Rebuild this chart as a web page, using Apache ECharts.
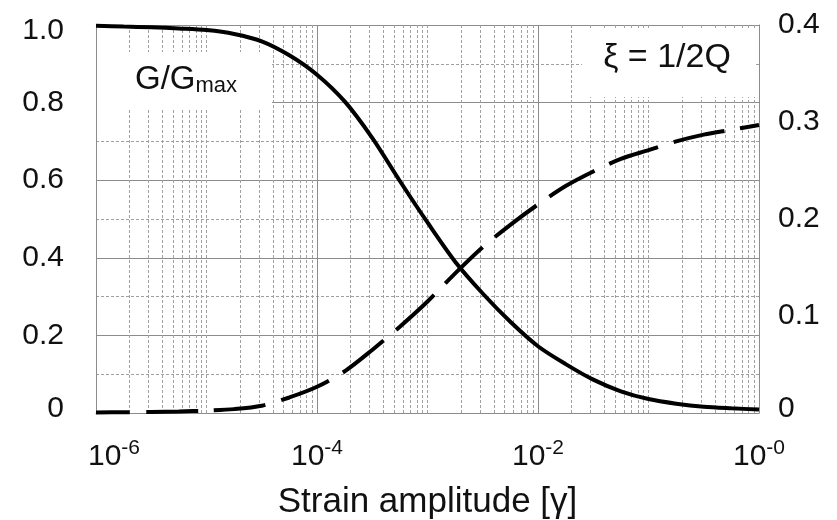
<!DOCTYPE html>
<html>
<head>
<meta charset="utf-8">
<script src="https://cdn.jsdelivr.net/npm/echarts@6/dist/echarts.min.js"></script>
<style>
  html, body { margin: 0; padding: 0; background: #fff; }
  #chart { width: 837px; height: 520px; }
</style>
</head>
<body>
<div id="chart"></div>
<script>
// Strain amplitude samples (quarter-decade steps)
const strain = [1e-6, 1.78e-6, 3.16e-6, 5.62e-6, 1e-5, 1.78e-5, 3.16e-5, 5.62e-5,
                1e-4, 1.78e-4, 3.16e-4, 5.62e-4, 1e-3, 1.78e-3, 3.16e-3, 5.62e-3,
                1e-2, 1.78e-2, 3.16e-2, 5.62e-2, 0.1, 0.178, 0.316, 0.562, 1];

// Shear modulus reduction G/Gmax (left axis)
const gRatio = [0.998, 0.996, 0.994, 0.991, 0.987, 0.977, 0.958, 0.922,
                0.872, 0.803, 0.709, 0.598, 0.491, 0.390, 0.308, 0.235,
                0.172, 0.126, 0.086, 0.056, 0.036, 0.024, 0.016, 0.012, 0.009];

// Damping ratio xi = 1/2Q (right axis)
const damping = [0.0005, 0.0008, 0.0011, 0.0016, 0.0025, 0.004, 0.0075, 0.016,
                 0.027, 0.043, 0.065, 0.089, 0.115, 0.144, 0.171, 0.194,
                 0.215, 0.234, 0.249, 0.262, 0.271, 0.280, 0.287, 0.292, 0.297];

// Axis ticks
const xTickExponents = ['-6', '-4', '-2', '-0'];
const leftTicks = [0, 0.2, 0.4, 0.6, 0.8, 1.0];
const rightTicks = [0, 0.1, 0.2, 0.3, 0.4];

// Minor log grid: 2..9 within every decade, plus the odd decades
const decades = [-6, -5, -4, -3, -2, -1];
const multipliers = [1, 2, 3, 4, 5, 6, 7, 8, 9];
const minorGridX = [];
decades.forEach(function (d) {
  multipliers.forEach(function (m) {
    if (m === 1 && d % 2 === 0) return; // even decades carry the major grid
    minorGridX.push(m * Math.pow(10, d));
  });
});

const FONT = '"Liberation Sans", Arial, Helvetica, sans-serif';
const MAJOR = '#8c8c8c';
const MINOR = '#a0a0a0';

function numLabel(v) {
  return Math.abs(v) < 1e-9 ? '0' : v.toFixed(1);
}
function snap(v, ticks) {
  const t = ticks.find(function (k) { return Math.abs(k - v) < 1e-6; });
  return t !== undefined ? t : v;
}
function pairs(xs, ys) {
  return xs.map(function (x, i) { return [x, ys[i]]; });
}

const chart = echarts.init(document.getElementById('chart'), null, { renderer: 'canvas' });

const tickText = { fontFamily: FONT, fontSize: 30, color: '#111' };

chart.setOption({
  animation: false,
  backgroundColor: '#fff',
  grid: {
    left: 96, right: 78, top: 25, bottom: 107,
    containLabel: false,
    outerBoundsMode: 'none'
  },
  xAxis: {
    type: 'log',
    logBase: 100,
    min: 1e-6,
    max: 1,
    name: 'Strain amplitude [\u03b3]',
    nameLocation: 'middle',
    nameGap: 72,
    nameTextStyle: { fontFamily: FONT, fontSize: 35, color: '#111' },
    axisLine: { show: true, lineStyle: { color: MAJOR, width: 1 } },
    axisTick: { show: false },
    splitLine: { show: true, lineStyle: { color: MAJOR, width: 1, type: 'solid' } },
    axisLabel: {
      margin: 25,
      showMinLabel: true,
      showMaxLabel: true,
      formatter: function (v, i) {
        const e = xTickExponents[i] !== undefined ? xTickExponents[i] : String(Math.round(Math.log10(v)));
        return (i === 0 ? '{b0|10}' : '{b|10}') + '{s|' + e + '}';
      },
      rich: {
        b: { fontFamily: FONT, fontSize: 30, lineHeight: 34, color: '#111', verticalAlign: 'bottom' },
        b0: { fontFamily: FONT, fontSize: 30, lineHeight: 34, color: '#111', verticalAlign: 'bottom', padding: [0, 0, 0, 36] },
        s: { fontFamily: FONT, fontSize: 21, lineHeight: 21, color: '#111', verticalAlign: 'top' }
      }
    }
  },
  yAxis: [
    {
      type: 'value',
      min: 0,
      max: 1,
      interval: 0.2,
      axisLine: { show: true, lineStyle: { color: MAJOR, width: 1 } },
      axisTick: { show: false },
      minorTick: { show: false, splitNumber: 2 },
      splitLine: { show: true, lineStyle: { color: MAJOR, width: 1 } },
      minorSplitLine: { show: true, lineStyle: { color: MINOR, width: 1, type: [3, 2] } },
      axisLabel: {
        margin: 32,
        formatter: function (v) {
          const t = snap(v, leftTicks);
          if (t === 1) return '{top|' + numLabel(t) + '}';
          if (t === 0) return '{low|' + numLabel(t) + '}';
          return '{n|' + numLabel(t) + '}';
        },
        rich: {
          n: tickText,
          top: Object.assign({ padding: [12, 0, 0, 0] }, tickText),
          low: Object.assign({ padding: [0, 0, 8, 0] }, tickText)
        }
      }
    },
    {
      type: 'value',
      min: 0,
      max: 0.4,
      interval: 0.1,
      position: 'right',
      axisLine: { show: true, lineStyle: { color: MAJOR, width: 1 } },
      axisTick: { show: false },
      splitLine: { show: false },
      axisLabel: {
        margin: 19,
        formatter: function (v) {
          const t = snap(v, rightTicks);
          return (t === 0 ? '{low|' : '{n|') + numLabel(t) + '}';
        },
        rich: {
          n: tickText,
          low: Object.assign({ padding: [0, 0, 8, 0] }, tickText)
        }
      }
    }
  ],
  graphic: [
    {
      type: 'rect', z: 1, silent: true,
      shape: { x: 97, y: 52, width: 175, height: 58 },
      style: { fill: '#fff' }
    },
    {
      type: 'text', z: 1, silent: true,
      x: 135, y: 80,
      style: {
        text: '{a|G/G}{b|max}',
        verticalAlign: 'middle',
        align: 'left',
        rich: {
          a: { fontFamily: FONT, fontSize: 33, lineHeight: 33, fill: '#111', verticalAlign: 'bottom' },
          b: { fontFamily: FONT, fontSize: 22, lineHeight: 16, fill: '#111', verticalAlign: 'bottom' }
        }
      }
    },
    {
      type: 'rect', z: 1, silent: true,
      shape: { x: 582, y: 29, width: 173, height: 68 },
      style: { fill: '#fff' }
    },
    {
      type: 'text', z: 1, silent: true,
      x: 667, y: 58,
      style: {
        text: '\u03be = 1/2Q',
        fontFamily: FONT,
        fontSize: 34,
        fill: '#111',
        align: 'center',
        verticalAlign: 'middle'
      }
    }
  ],
  series: [
    {
      // dotted minor grid lines of the log axis
      type: 'lines',
      coordinateSystem: 'cartesian2d',
      xAxisIndex: 0,
      yAxisIndex: 0,
      z: 0,
      silent: true,
      polyline: false,
      lineStyle: { color: MINOR, width: 1, type: [3, 2], opacity: 1, curveness: 0 },
      data: minorGridX.map(function (v) { return { coords: [[v, 0], [v, 1]] }; })
    },
    {
      name: 'G/Gmax',
      type: 'line',
      z: 3,
      yAxisIndex: 0,
      data: pairs(strain, gRatio),
      smooth: 0.3,
      showSymbol: false,
      symbol: 'none',
      clip: true,
      lineStyle: { color: '#000', width: 4 }
    },
    {
      name: 'xi',
      type: 'line',
      z: 3,
      yAxisIndex: 1,
      data: pairs(strain, damping),
      smooth: 0.3,
      showSymbol: false,
      symbol: 'none',
      clip: true,
      lineStyle: { color: '#000', width: 4, type: [52, 16], dashOffset: 18 }
    }
  ]
});
</script>
</body>
</html>
